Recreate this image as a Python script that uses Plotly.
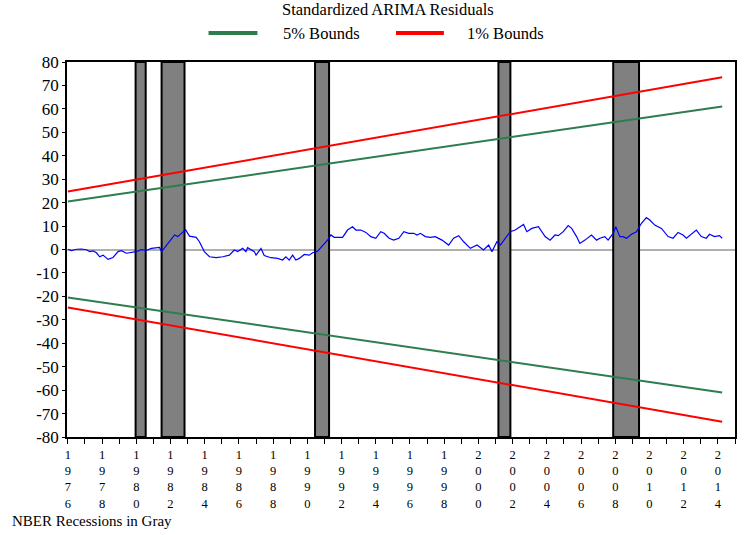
import plotly.graph_objects as go

# standardized ARIMA residuals
resid_year = [1976.02, 1976.21, 1976.51, 1976.80, 1977.09, 1977.28, 1977.48, 1977.67, 1977.86, 1978.06,
              1978.35, 1978.64, 1978.93, 1979.13, 1979.42, 1979.71, 1980.00, 1980.29, 1980.58, 1980.88,
              1981.17, 1981.36, 1981.48, 1981.75, 1981.94, 1982.24, 1982.43, 1982.68, 1982.88, 1983.11,
              1983.50, 1983.69, 1983.98, 1984.28, 1984.67, 1985.06, 1985.35, 1985.44, 1985.73, 1985.93,
              1986.22, 1986.41, 1986.51, 1986.90, 1987.00, 1987.29, 1987.48, 1987.87, 1988.26, 1988.55,
              1988.75, 1988.94, 1989.14, 1989.33, 1989.53, 1989.82, 1990.11, 1990.31, 1990.60, 1990.99,
              1991.18, 1991.38, 1991.57, 1992.06, 1992.35, 1992.64, 1992.84, 1993.13, 1993.42, 1993.71,
              1994.00, 1994.29, 1994.49, 1994.78, 1995.05, 1995.35, 1995.64, 1995.93, 1996.22, 1996.41,
              1996.61, 1996.90, 1997.19, 1997.48, 1997.87, 1998.26, 1998.55, 1998.85, 1999.14, 1999.53,
              1999.92, 2000.30, 2000.60, 2000.79, 2001.08, 2001.28, 2001.57, 2001.86, 2002.15, 2002.44,
              2002.64, 2002.83, 2003.12, 2003.51, 2003.90, 2004.19, 2004.48, 2004.67, 2004.96, 2005.25,
              2005.45, 2005.74, 2005.93, 2006.23, 2006.61, 2006.91, 2007.10, 2007.39, 2007.58, 2007.88,
              2008.03, 2008.27, 2008.46, 2008.66, 2008.95, 2009.24, 2009.53, 2009.82, 2010.02, 2010.31,
              2010.70, 2011.09, 2011.38, 2011.67, 2011.96, 2012.16, 2012.45, 2012.74, 2013.03, 2013.32,
              2013.51, 2013.80, 2014.09, 2014.25]
resid_value = [0.1, -0.5, 0.1, 0.2, -0.1, -0.9, -0.6, -1.4, -3.1, -2.4,
               -4.2, -3.4, -0.9, -0.5, -1.6, -1.4, -0.9, -0.1, -0.4, 0.5,
               0.8, 0.9, -0.9, 1.6, 3.3, 6.2, 5.5, 7.3, 8.5, 5.7,
               5.2, 3.3, -0.9, -3.1, -3.5, -3.1, -2.4, -2.4, -0.2, -0.9,
               0.5, -0.9, 0.8, -0.9, -2.4, 0.5, -2.6, -3.5, -3.8, -4.5,
               -3.1, -4.5, -2.4, -4.5, -3.8, -2.1, -2.4, -1.4, -0.7, 2.6,
               4.0, 6.2, 5.2, 5.2, 8.3, 9.7, 8.3, 8.3, 7.3, 5.5,
               4.8, 7.6, 6.9, 4.8, 4.0, 4.8, 7.6, 6.9, 6.9, 6.2,
               6.9, 5.5, 5.2, 5.5, 4.0, 1.9, 4.8, 5.9, 3.3, 0.5,
               1.9, -0.2, 1.9, -0.9, 3.3, 1.9, 4.8, 7.6, 8.3, 9.7,
               10.7, 7.6, 9.0, 9.7, 5.5, 4.0, 6.2, 5.9, 7.6, 10.2,
               9.0, 5.5, 2.6, 4.0, 6.2, 4.0, 4.8, 5.5, 4.0, 6.9,
               9.7, 5.5, 5.5, 4.8, 6.5, 7.6, 11.2, 13.6, 12.6, 10.4,
               9.0, 5.5, 4.8, 7.3, 6.2, 4.8, 6.5, 8.3, 5.5, 4.8,
               6.5, 5.5, 5.9, 4.8]

# bounds (straight lines between the first and last observation)
bound_year = [1976.0, 2014.25]
bound_5pct = [20.5, 61.0]
bound_1pct = [24.7, 73.5]

# NBER recessions
rec_start = [1979.96, 1981.48, 1990.45, 2001.17, 2007.88]
rec_end = [1980.55, 1982.82, 1991.27, 2001.87, 2009.39]

years = list(range(1976, 2016))
tick_text = ["<br>".join(str(y)) if y % 2 == 0 else "" for y in years]
y_ticks = list(range(-80, 81, 10))
y_text = [str(v) for v in y_ticks]  # plain hyphen like the original

GREEN = "#2E7D4F"
RED = "#FF0000"
SERIF = "Liberation Serif, serif"

fig = go.Figure()

fig.add_trace(go.Scatter(x=bound_year, y=bound_5pct, mode="lines",
                         line=dict(color=GREEN, width=2), showlegend=False))
fig.add_trace(go.Scatter(x=bound_year, y=[-v for v in bound_5pct], mode="lines",
                         line=dict(color=GREEN, width=2), showlegend=False))
fig.add_trace(go.Scatter(x=bound_year, y=bound_1pct, mode="lines",
                         line=dict(color=RED, width=2), showlegend=False))
fig.add_trace(go.Scatter(x=bound_year, y=[-v for v in bound_1pct], mode="lines",
                         line=dict(color=RED, width=2), showlegend=False))
fig.add_trace(go.Scatter(x=resid_year, y=resid_value, mode="lines",
                         line=dict(color="#0000FF", width=1.2), showlegend=False))

# recession shading
for s, e in zip(rec_start, rec_end):
    fig.add_shape(type="rect", xref="x", yref="y", x0=s, x1=e, y0=-80, y1=80,
                  fillcolor="#808080", line=dict(color="black", width=2), layer="between")

# legend drawn by hand
fig.add_annotation(text="Standardized ARIMA Residuals", xref="paper", yref="paper",
                   x=0.4806, y=1.1413, yanchor="middle", showarrow=False, font=dict(size=16.5))
fig.add_shape(type="line", xref="paper", yref="paper", x0=0.2119, x1=0.2851, y0=1.0773, y1=1.0773,
              line=dict(color=GREEN, width=4))
fig.add_annotation(text="5% Bounds", xref="paper", yref="paper", x=0.3806, y=1.0773,
                   yanchor="middle", showarrow=False, font=dict(size=16.5))
fig.add_shape(type="line", xref="paper", yref="paper", x0=0.4925, x1=0.5642, y0=1.0773, y1=1.0773,
              line=dict(color=RED, width=4))
fig.add_annotation(text="1% Bounds", xref="paper", yref="paper", x=0.6567, y=1.0773,
                   yanchor="middle", showarrow=False, font=dict(size=16.5))
fig.add_annotation(text="NBER Recessions in Gray", xref="paper", yref="paper", x=-0.0851, y=-0.224,
                   xanchor="left", yanchor="middle", showarrow=False, font=dict(size=15))

fig.update_layout(
    width=748, height=535,
    margin=dict(l=67, r=11, t=62, b=98),
    paper_bgcolor="white", plot_bgcolor="white",
    font=dict(family=SERIF, color="black"),
)
fig.update_xaxes(range=[1975.95, 2015], tickmode="array", tickvals=years, ticktext=tick_text,
                 ticks="outside", ticklen=5, tickcolor="black", tickfont=dict(size=12.5),
                 showline=True, linecolor="black", linewidth=1.5, mirror=True,
                 showgrid=False, zeroline=False)
fig.update_yaxes(range=[-80, 80], tickmode="array", tickvals=y_ticks, ticktext=y_text,
                 ticks="outside", ticklen=3, tickcolor="black",
                 tickfont=dict(size=17), showline=True, linecolor="black", linewidth=1.5, mirror=True,
                 showgrid=False, zeroline=True, zerolinecolor="#B0B0B0", zerolinewidth=2)

# drop the browser's default 8px body margin so the figure fills the window
fig.write_html("out.html", config={"displayModeBar": False},
               post_script="document.body.style.margin = '0';")
